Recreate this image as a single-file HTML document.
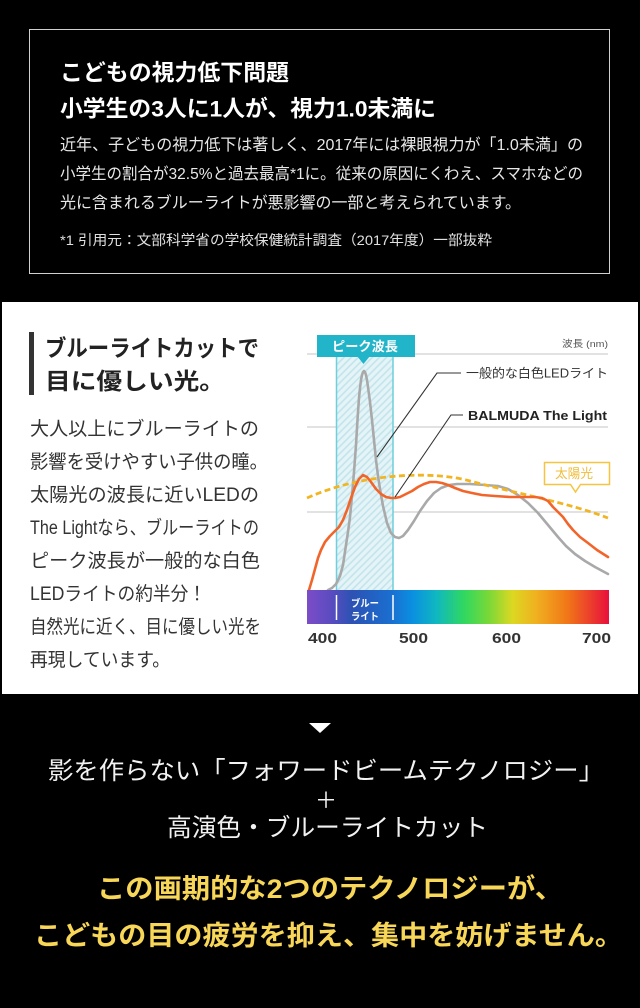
<!DOCTYPE html>
<html><head><meta charset="utf-8">
<style>
html,body{margin:0;padding:0;background:#000;}
svg{display:block;}
text{font-family:"Liberation Sans","Noto Sans CJK JP",sans-serif;}
</style></head>
<body>
<svg width="640" height="1008" viewBox="0 0 640 1008" xmlns="http://www.w3.org/2000/svg">
<defs>
<pattern id="hatch" patternUnits="userSpaceOnUse" width="5" height="5" patternTransform="rotate(45)">
<rect width="5" height="5" fill="#e4f4f7"/>
<line x1="1" y1="0" x2="1" y2="5" stroke="#bfe2ea" stroke-width="1.4"/>
</pattern>
<linearGradient id="spec" x1="0" y1="0" x2="1" y2="0">
<stop offset="0" stop-color="#7d4cc8"/>
<stop offset="0.08" stop-color="#5a4cc0"/>
<stop offset="0.15" stop-color="#2c52b4"/>
<stop offset="0.28" stop-color="#1a6fd0"/>
<stop offset="0.35" stop-color="#0a90e0"/>
<stop offset="0.43" stop-color="#10b8c0"/>
<stop offset="0.52" stop-color="#30d860"/>
<stop offset="0.60" stop-color="#78d838"/>
<stop offset="0.68" stop-color="#dcd822"/>
<stop offset="0.76" stop-color="#f0b020"/>
<stop offset="0.86" stop-color="#f07818"/>
<stop offset="1" stop-color="#e8103c"/>
</linearGradient>
</defs>

<rect x="0" y="0" width="640" height="1008" fill="#000"/>

<!-- top box -->
<rect x="29.5" y="29.5" width="580" height="244" fill="none" stroke="#d0d0d0" stroke-width="1"/>
<text x="60" y="80.5" font-size="22.5" font-weight="bold" fill="#fff" textLength="229" lengthAdjust="spacingAndGlyphs">こどもの視力低下問題</text>
<text x="60" y="116.5" font-size="22.5" font-weight="bold" fill="#fff" textLength="376" lengthAdjust="spacingAndGlyphs">小学生の3人に1人が、視力1.0未満に</text>
<text x="60" y="150" font-size="16" fill="#e8e8e8" textLength="523" lengthAdjust="spacingAndGlyphs">近年、子どもの視力低下は著しく、2017年には裸眼視力が「1.0未満」の</text>
<text x="60" y="179" font-size="16" fill="#e8e8e8" textLength="523" lengthAdjust="spacingAndGlyphs">小学生の割合が32.5%と過去最高*1に。従来の原因にくわえ、スマホなどの</text>
<text x="60" y="208" font-size="16" fill="#e8e8e8" textLength="461" lengthAdjust="spacingAndGlyphs">光に含まれるブルーライトが悪影響の一部と考えられています。</text>
<text x="60" y="245" font-size="14" fill="#e0e0e0" textLength="432" lengthAdjust="spacingAndGlyphs">*1 引用元：文部科学省の学校保健統計調査（2017年度）一部抜粋</text>

<!-- white panel -->
<rect x="2" y="302" width="636" height="392" fill="#fff"/>

<!-- left title -->
<rect x="29" y="332" width="5" height="63" fill="#333"/>
<text x="45" y="356" font-size="23" font-weight="bold" fill="#222" textLength="214" lengthAdjust="spacingAndGlyphs">ブルーライトカットで</text>
<text x="45" y="389" font-size="23" font-weight="bold" fill="#222" textLength="180" lengthAdjust="spacingAndGlyphs">目に優しい光。</text>

<!-- left body -->
<g font-size="19" fill="#333">
<text x="30" y="435" textLength="229" lengthAdjust="spacingAndGlyphs">大人以上にブルーライトの</text>
<text x="30" y="468" textLength="238" lengthAdjust="spacingAndGlyphs">影響を受けやすい子供の瞳。</text>
<text x="30" y="501" textLength="229" lengthAdjust="spacingAndGlyphs">太陽光の波長に近いLEDの</text>
<text x="30" y="534" textLength="229" lengthAdjust="spacingAndGlyphs">The Lightなら、ブルーライトの</text>
<text x="30" y="567" textLength="230" lengthAdjust="spacingAndGlyphs">ピーク波長が一般的な白色</text>
<text x="30" y="600" textLength="176" lengthAdjust="spacingAndGlyphs">LEDライトの約半分！</text>
<text x="30" y="633" textLength="231" lengthAdjust="spacingAndGlyphs">自然光に近く、目に優しい光を</text>
<text x="30" y="666" textLength="140" lengthAdjust="spacingAndGlyphs">再現しています。</text>
</g>

<!-- chart gridlines -->
<g stroke="#d9d9d9" stroke-width="1.5">
<line x1="307" y1="354" x2="608" y2="354"/>
<line x1="307" y1="427" x2="608" y2="427"/>
<line x1="307" y1="512" x2="608" y2="512"/>
</g>
<text x="608" y="347" font-size="9.5" fill="#555" text-anchor="end" textLength="46" lengthAdjust="spacingAndGlyphs">波長 (nm)</text>

<!-- band -->
<rect x="336" y="357" width="57" height="233" fill="url(#hatch)"/>
<line x1="336.5" y1="357" x2="336.5" y2="590" stroke="#6fcfdc" stroke-width="1.5"/>
<line x1="393" y1="357" x2="393" y2="590" stroke="#6fcfdc" stroke-width="1.5"/>

<!-- peak box -->
<rect x="317" y="335" width="98" height="22" fill="#22b4c8"/>
<polygon points="357,356 370,356 363.5,364" fill="#22b4c8"/>
<text x="332" y="351" font-size="13" font-weight="bold" fill="#fff" textLength="66" lengthAdjust="spacingAndGlyphs">ピーク波長</text>

<!-- gray LED curve -->
<polyline fill="none" stroke="#a9a9a9" stroke-width="2.6" stroke-linejoin="round" stroke-linecap="round"
points="328,590 332,588 336,584 340,576 343,565 346,545 348,532 350,517 352,496 354,472 356,445 357,428 358,412 359,398 360,388 361,380 362,375 363,372 364,371 365,372 366,375 367,380 368,387 370,402 372,420 374,440 376,460 378,476 380,489 383,506 387,523 391,533 395,537 399,538 403,536 408,530 414,521 420,511 427,501 434,493 441,488 449,485 457,484 470,484 485,485 498,486 508,489 518,495 528,503 538,513 548,525 558,537 566,546 575,554 585,561 595,567 608,574"/>

<!-- sun dashed -->
<path d="M307,498 C360,474 430,470 470,481 S570,503 608,518" fill="none" stroke="#f2b522" stroke-width="2.8" stroke-dasharray="6 3.5"/>

<!-- orange BALMUDA curve -->
<polyline fill="none" stroke="#f2652a" stroke-width="2.6" stroke-linejoin="round" stroke-linecap="round"
points="309,590 312,580 315,569 318,558 321,550 325,542 330,536 335,531 339,527 343,520 347,510 351,498 355,487 359,479 363,475 367,477 371,482 376,489 381,494 386,497 391,498 395,498 400,497 406,494 412,491 418,487 424,484 430,482 436,482 442,483 448,485 455,488 463,491 472,493 482,495 495,496 510,497 525,497 535,497 542,498 548,501 553,507 558,512 563,517 568,524 573,530 580,537 588,543 597,550 608,557"/>

<!-- callouts -->
<polyline points="377,457 437,373 461,373" fill="none" stroke="#333" stroke-width="1.1"/>
<text x="466" y="377.5" font-size="12.5" fill="#333" textLength="142" lengthAdjust="spacingAndGlyphs">一般的な白色LEDライト</text>
<polyline points="395,497 451,415 463,415" fill="none" stroke="#333" stroke-width="1.1"/>
<text x="468" y="420" font-size="13" font-weight="bold" fill="#222" textLength="139" lengthAdjust="spacingAndGlyphs">BALMUDA The Light</text>

<!-- sun label -->
<path d="M544.5,462.5 H609.5 V484.5 H580.5 L575.5,492 L570.5,484.5 H544.5 Z" fill="#fff" stroke="#f5c542" stroke-width="1.5"/>
<text x="555" y="478" font-size="13" fill="#f0bc3a" textLength="38" lengthAdjust="spacingAndGlyphs">太陽光</text>

<!-- spectrum bar -->
<rect x="307" y="590" width="302" height="34" fill="url(#spec)"/>
<line x1="336.5" y1="595" x2="336.5" y2="620" stroke="#fff" stroke-width="1.5"/>
<line x1="393" y1="595" x2="393" y2="620" stroke="#fff" stroke-width="1.5"/>
<text x="351" y="607" font-size="10" font-weight="bold" fill="#fff" textLength="28" lengthAdjust="spacingAndGlyphs">ブルー</text>
<text x="351" y="620" font-size="10" font-weight="bold" fill="#fff" textLength="28" lengthAdjust="spacingAndGlyphs">ライト</text>

<!-- axis labels -->
<g font-size="14.5" font-weight="bold" fill="#333">
<text x="308" y="643" textLength="29" lengthAdjust="spacingAndGlyphs">400</text>
<text x="399" y="643" textLength="29" lengthAdjust="spacingAndGlyphs">500</text>
<text x="492" y="643" textLength="29" lengthAdjust="spacingAndGlyphs">600</text>
<text x="582" y="643" textLength="29" lengthAdjust="spacingAndGlyphs">700</text>
</g>

<!-- bottom -->
<polygon points="309,723 331,723 320,733" fill="#fff"/>
<text x="48" y="779" font-size="24.5" fill="#f2f2f2" textLength="556" lengthAdjust="spacingAndGlyphs">影を作らない「フォワードビームテクノロジー」</text>
<text x="326" y="808" font-size="22" fill="#f2f2f2" text-anchor="middle">＋</text>
<text x="167" y="836" font-size="24.5" fill="#f2f2f2" textLength="321" lengthAdjust="spacingAndGlyphs">高演色・ブルーライトカット</text>
<text x="97" y="898" font-size="27" font-weight="bold" fill="#f7d658" textLength="466" lengthAdjust="spacingAndGlyphs">この画期的な2つのテクノロジーが、</text>
<text x="34" y="945" font-size="27" font-weight="bold" fill="#f7d658" textLength="589" lengthAdjust="spacingAndGlyphs">こどもの目の疲労を抑え、集中を妨げません。</text>
</svg>
</body></html>
